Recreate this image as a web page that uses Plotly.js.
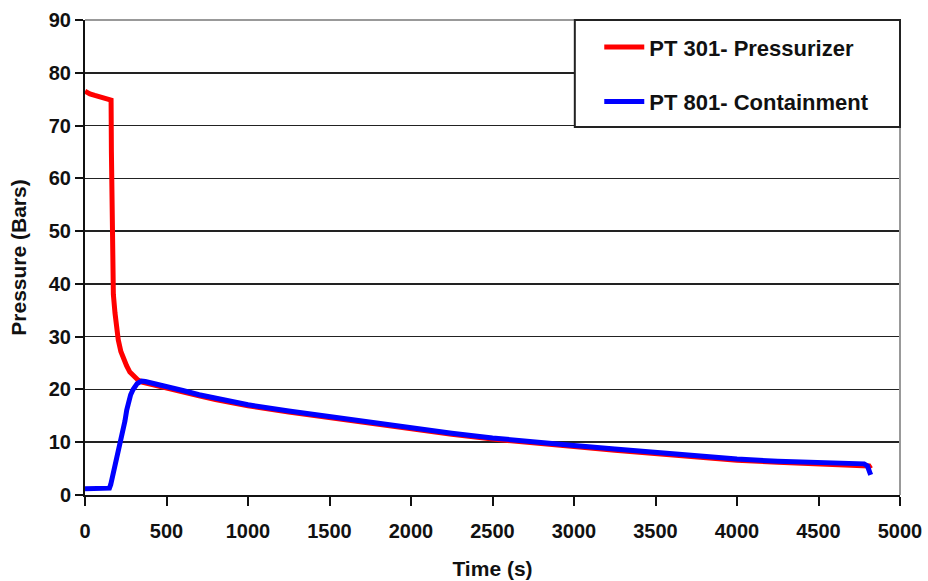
<!DOCTYPE html>
<html>
<head>
<meta charset="utf-8">
<script src="https://cdn.plot.ly/plotly-3.0.1.min.js"></script>
<style>html,body{margin:0;padding:0;background:#fff}#chart{width:928px;height:581px}</style>
</head>
<body>
<div id="chart"></div>
<script>
// Time (s) and pressure (bar) values
const redTime = [0,10,30,60,90,120,150,160,162,164,168,174,184,194,204,220,240,255,275,300,325,350,400,500,600,700,800,900,1000,1250,1500,1750,2000,2250,2500,2750,3000,3250,3500,3750,4000,4250,4500,4750,4800,4810,4820];
const redPressure = [76.5,76.3,76.0,75.7,75.4,75.2,75.0,74.8,65,57,47,38,34.5,31.5,29.4,27.2,25.5,24.5,23.3,22.4,21.8,21.4,21.0,20.4,19.6,18.8,18.1,17.5,16.9,15.7,14.6,13.5,12.5,11.5,10.6,9.8,9.2,8.5,7.9,7.1,6.6,6.2,5.9,5.7,5.6,5.5,5.0];

const blueTime = [0,50,100,150,158,165,174,185,195,205,215,225,235,245,256,268,280,295,307,320,335,348,370,400,450,500,600,700,800,900,1000,1250,1500,1750,2000,2250,2500,2750,3000,3250,3500,3750,4000,4250,4500,4750,4780,4800,4810,4820];
const bluePressure = [1.2,1.2,1.2,1.3,2.0,3.0,4.2,5.5,6.8,8.0,9.1,10.6,12.2,14.0,16.1,17.8,19.0,20.0,20.6,21.1,21.4,21.6,21.5,21.3,21.0,20.6,19.8,19.0,18.3,17.7,17.1,15.9,14.8,13.7,12.7,11.7,10.8,10.0,9.4,8.7,8.1,7.3,6.8,6.4,6.1,5.9,5.9,5.5,4.5,3.8];

const seriesNames = ["PT 301- Pressurizer", "PT 801- Containment"];
const xTicks = [0,500,1000,1500,2000,2500,3000,3500,4000,4500,5000];
const yTicks = [0,10,20,30,40,50,60,70,80,90];

const FONT = "Liberation Sans, Arial, sans-serif";

const traces = [
  {x: redTime, y: redPressure, name: seriesNames[0], mode: "lines", legendgroup: "a",
   line: {color: "#ff0000", width: 5}},
  {x: blueTime, y: bluePressure, name: seriesNames[1], mode: "lines", legendgroup: "b",
   line: {color: "#0000ff", width: 5}}
];

const layout = {
  width: 928, height: 581,
  margin: {l: 85, r: 28, t: 20, b: 86},
  paper_bgcolor: "#ffffff", plot_bgcolor: "#ffffff",
  font: {family: FONT, color: "#111"},
  showlegend: true,
  legend: {
    x: 0.631, y: 0.987, xanchor: "left", yanchor: "top",
    bgcolor: "rgba(0,0,0,0)", borderwidth: 0,
    font: {family: FONT, size: 22, color: "#111", weight: "bold"},
    traceorder: "grouped", tracegroupgap: 23, itemwidth: 40
  },
  xaxis: {
    range: [0, 5000], tickvals: xTicks, ticktext: xTicks.map(String),
    ticks: "outside", ticklen: 9, tickwidth: 2, tickcolor: "#111",
    showline: true, linecolor: "#111", linewidth: 2,
    showgrid: false, zeroline: false, ticklabelstandoff: 8,
    tickfont: {family: FONT, size: 20, color: "#111", weight: "bold"},
    title: {text: "Time (s)", font: {family: FONT, size: 21, color: "#111", weight: "bold"}, standoff: 20}
  },
  yaxis: {
    range: [0, 90], tickvals: yTicks, ticktext: yTicks.map(String),
    ticks: "outside", ticklen: 8, tickwidth: 2, tickcolor: "#111",
    showline: true, linecolor: "#111", linewidth: 2,
    showgrid: true, gridcolor: "#222", gridwidth: 1.5, zeroline: false,
    tickfont: {family: FONT, size: 20, color: "#111", weight: "bold"},
    title: {text: "Pressure (Bars)", font: {family: FONT, size: 21, color: "#111", weight: "bold"}, standoff: 16}
  },
  shapes: [
    {type: "line", xref: "paper", yref: "paper", x0: 0, x1: 1, y0: 1, y1: 1, line: {color: "#999", width: 2}},
    {type: "line", xref: "paper", yref: "paper", x0: 1, x1: 1, y0: 0, y1: 1, line: {color: "#999", width: 2}},
    {type: "rect", xref: "paper", yref: "paper", x0: 0.601, x1: 1, y0: 0.775, y1: 1,
     fillcolor: "#ffffff", line: {color: "#222", width: 2}, layer: "above"}
  ]
};

Plotly.newPlot("chart", traces, layout, {displayModeBar: false, staticPlot: true});
</script>
</body>
</html>
